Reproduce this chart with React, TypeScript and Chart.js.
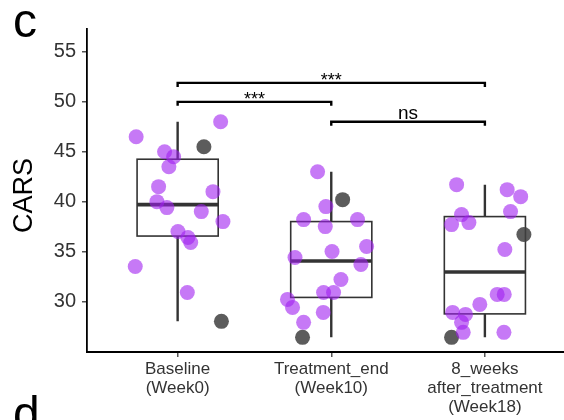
import { useEffect, useRef } from 'react';
import { Chart, registerables } from 'chart.js';

Chart.register(...registerables);

// ---------- data ----------
const categories: string[][] = [
  ['Baseline', '(Week0)'],
  ['Treatment_end', '(Week10)'],
  ['8_weeks', 'after_treatment', '(Week18)'],
];
const yTicks = [30, 35, 40, 45, 50, 55];
const yLabel = 'CARS';

const baselinePurple = [46.5, 48.0, 45.0, 44.5, 43.5, 41.5, 41.0, 40.0, 39.4, 39.0, 38.0, 37.0, 36.4, 35.9, 33.5, 30.9];
const baselinePurpleJitter = [-0.27, 0.28, -0.085, -0.026, -0.057, -0.124, 0.23, -0.135, -0.07, 0.154, 0.295, 0.002, 0.067, 0.085, -0.276, 0.063];
const baselineGray = [45.5, 28.0];
const baselineGrayJitter = [0.171, 0.285];

const treatmentPurple = [43.0, 39.5, 38.2, 37.5, 38.2, 35.5, 35.0, 34.4, 33.7, 32.2, 30.9, 30.9, 30.2, 29.4, 28.9, 27.9];
const treatmentPurpleJitter = [-0.089, -0.035, -0.18, -0.039, 0.171, 0.23, 0.005, -0.236, 0.193, 0.063, -0.05, 0.015, -0.285, -0.252, -0.052, -0.18];
const treatmentGray = [40.2, 26.4];
const treatmentGrayJitter = [0.074, -0.187];

const followupPurple = [41.7, 41.2, 40.5, 39.0, 38.7, 37.7, 37.9, 35.2, 30.7, 30.7, 29.7, 28.9, 28.7, 27.9, 26.9, 26.9];
const followupPurpleJitter = [-0.184, 0.145, 0.233, 0.167, -0.152, -0.217, -0.104, 0.13, 0.08, 0.126, -0.033, -0.21, -0.126, -0.152, -0.141, 0.124];
const followupGray = [36.7, 26.4];
const followupGrayJitter = [0.254, -0.217];

const boxQ1 = [36.55, 30.4, 28.75];
const boxMedian = [39.7, 34.05, 32.95];
const boxQ3 = [44.25, 38.0, 38.5];
const whiskerLow = [28.0, 26.4, 26.4];
const whiskerHigh = [48.0, 43.0, 41.7];

const compFrom = [1, 1, 2];
const compTo = [2, 3, 3];
const compY = [50.0, 51.9, 48.0];
const compLabel = ['***', '***', 'ns'];

// ---------- styles ----------
const FONT = '"Liberation Sans", Arial, Helvetica, sans-serif';
const BOX_WIDTH = 0.528;
const PURPLE = 'rgba(160,32,240,0.6)';
const GRAY = 'rgba(64,64,64,0.85)';

function toPoints(values: number[], jitter: number[], cat: number) {
  return values.map((v, i) => ({ x: cat + jitter[i], y: v }));
}

const boxPlugin = {
  id: 'boxes',
  beforeDatasetsDraw(chart: any) {
    const { ctx, scales } = chart;
    const x = scales.x;
    const y = scales.y;
    ctx.save();
    ctx.strokeStyle = '#333333';
    for (let i = 0; i < boxQ1.length; i++) {
      const c = i + 1;
      const cx = x.getPixelForValue(c);
      const xl = x.getPixelForValue(c - BOX_WIDTH / 2);
      const xr = x.getPixelForValue(c + BOX_WIDTH / 2);
      const yq1 = y.getPixelForValue(boxQ1[i]);
      const yq3 = y.getPixelForValue(boxQ3[i]);
      const ymed = y.getPixelForValue(boxMedian[i]);
      const ylo = y.getPixelForValue(whiskerLow[i]);
      const yhi = y.getPixelForValue(whiskerHigh[i]);
      ctx.lineWidth = 2.4;
      ctx.lineCap = 'butt';
      ctx.beginPath();
      ctx.moveTo(cx, yq3);
      ctx.lineTo(cx, yhi);
      ctx.moveTo(cx, yq1);
      ctx.lineTo(cx, ylo);
      ctx.stroke();
      ctx.fillStyle = '#ffffff';
      ctx.fillRect(xl, yq3, xr - xl, yq1 - yq3);
      ctx.lineWidth = 1.6;
      ctx.strokeRect(xl, yq3, xr - xl, yq1 - yq3);
      ctx.lineWidth = 3.6;
      ctx.beginPath();
      ctx.moveTo(xl, ymed);
      ctx.lineTo(xr, ymed);
      ctx.stroke();
    }
    ctx.restore();
  },
};

const annotationPlugin = {
  id: 'annotations',
  afterDraw(chart: any) {
    const { ctx, scales } = chart;
    const x = scales.x;
    const y = scales.y;
    ctx.save();
    ctx.strokeStyle = '#000000';
    ctx.fillStyle = '#000000';
    ctx.lineWidth = 2.4;
    ctx.lineJoin = 'miter';
    ctx.lineCap = 'butt';
    for (let i = 0; i < compY.length; i++) {
      const x1 = x.getPixelForValue(compFrom[i]);
      const x2 = x.getPixelForValue(compTo[i]);
      const yy = y.getPixelForValue(compY[i]);
      ctx.beginPath();
      ctx.moveTo(x1, yy + 4);
      ctx.lineTo(x1, yy);
      ctx.lineTo(x2, yy);
      ctx.lineTo(x2, yy + 4);
      ctx.stroke();
      ctx.textAlign = 'center';
      ctx.textBaseline = 'alphabetic';
      if (compLabel[i] === 'ns') {
        ctx.font = `19px ${FONT}`;
        ctx.fillText(compLabel[i], (x1 + x2) / 2, yy - 2.5);
      } else {
        ctx.font = `18px ${FONT}`;
        ctx.fillText(compLabel[i], (x1 + x2) / 2, yy + 3);
      }
    }
    // y axis title
    ctx.save();
    ctx.translate(25, 195.5);
    ctx.rotate(-Math.PI / 2);
    ctx.font = `27px ${FONT}`;
    ctx.textAlign = 'center';
    ctx.textBaseline = 'middle';
    ctx.fillText(yLabel, 0, 0);
    ctx.restore();
    // panel tags
    ctx.font = `48px ${FONT}`;
    ctx.textAlign = 'left';
    ctx.textBaseline = 'alphabetic';
    ctx.fillText('c', 13, 36.5);
    ctx.fillText('d', 13, 430);
    ctx.restore();
  },
};

export default function App() {
  const ref = useRef<HTMLCanvasElement>(null);
  useEffect(() => {
    document.body.style.margin = '0';
    if (!ref.current) return;
    const purpleData = [
      ...toPoints(baselinePurple, baselinePurpleJitter, 1),
      ...toPoints(treatmentPurple, treatmentPurpleJitter, 2),
      ...toPoints(followupPurple, followupPurpleJitter, 3),
    ];
    const grayData = [
      ...toPoints(baselineGray, baselineGrayJitter, 1),
      ...toPoints(treatmentGray, treatmentGrayJitter, 2),
      ...toPoints(followupGray, followupGrayJitter, 3),
    ];
    const chart = new Chart(ref.current, {
      type: 'scatter',
      data: {
        datasets: [
          {
            data: purpleData,
            backgroundColor: PURPLE,
            borderWidth: 0,
            pointRadius: 7.5,
            pointHoverRadius: 7.5,
          },
          {
            data: grayData,
            backgroundColor: GRAY,
            borderWidth: 0,
            pointRadius: 7.5,
            pointHoverRadius: 7.5,
          },
        ],
      },
      options: {
        responsive: false,
        animation: false,
        devicePixelRatio: 1,
        layout: { autoPadding: false, padding: { top: 29, left: 0, right: 0, bottom: 0 } },
        plugins: {
          legend: { display: false },
          tooltip: { enabled: false },
        },
        scales: {
          x: {
            type: 'linear',
            min: 0.41,
            max: 3.515,
            afterBuildTicks: (s: any) => {
              s.ticks = categories.map((_, i) => ({ value: i + 1 }));
            },
            afterFit: (s: any) => {
              s.height = 68;
              s.paddingLeft = 0;
              s.paddingRight = 0;
            },
            ticks: {
              callback: (v: any) => categories[Number(v) - 1] ?? '',
              font: { family: FONT, size: 17, lineHeight: 1.12 },
              color: '#333333',
              padding: 3,
              maxRotation: 0,
              autoSkip: false,
            },
            grid: {
              drawOnChartArea: false,
              drawTicks: true,
              tickLength: 5,
              tickColor: '#555555',
              lineWidth: 1.5,
            },
            border: { display: true, color: '#000000', width: 2 },
          },
          y: {
            min: 24.93,
            max: 57.3,
            afterBuildTicks: (s: any) => {
              s.ticks = yTicks.map((v) => ({ value: v }));
            },
            afterFit: (s: any) => {
              s.width = 87;
              s.paddingTop = 0;
              s.paddingBottom = 0;
            },
            ticks: {
              font: { family: FONT, size: 20 },
              color: '#333333',
              padding: 6,
            },
            grid: {
              drawOnChartArea: false,
              drawTicks: true,
              tickLength: 5,
              tickColor: '#555555',
              lineWidth: 1.5,
            },
            border: { display: true, color: '#000000', width: 1.8 },
          },
        },
      },
      plugins: [boxPlugin, annotationPlugin],
    } as any);
    return () => {
      chart.destroy();
    };
  }, []);
  return (
    <div style={{ width: 564, height: 420 }}>
      <canvas ref={ref} width={564} height={420} style={{ display: 'block' }} />
    </div>
  );
}
